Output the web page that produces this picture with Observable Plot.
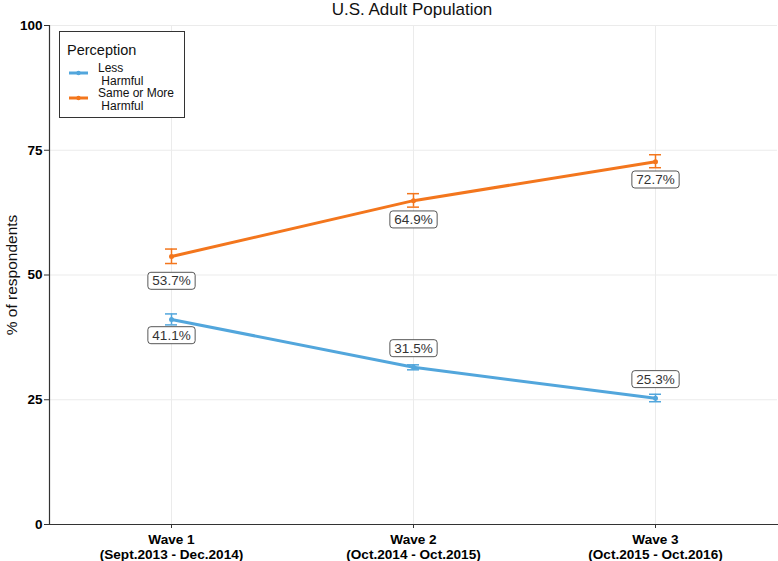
<!DOCTYPE html>
<html><head><meta charset="utf-8">
<script src="https://cdn.jsdelivr.net/npm/d3@7"></script>
<script src="https://cdn.jsdelivr.net/npm/@observablehq/plot@0.6"></script>
<style>
body{margin:0;background:#fff;font-family:"Liberation Sans",Arial,sans-serif;}
#wrap{position:relative;width:778px;height:561px;overflow:hidden;}
#title{position:absolute;left:0;width:824px;top:0px;text-align:center;font-size:17px;color:#111;line-height:19px;}
#legend{position:absolute;left:59px;top:31px;width:124px;height:85px;border:1.5px solid #333;background:#fff;}
#legend .ttl{position:absolute;left:7px;top:10px;font-size:14.5px;color:#111;}
#legend .item{position:absolute;left:38px;font-size:12px;color:#111;white-space:pre;line-height:13px;}
#legend svg{position:absolute;left:0;top:0;}
</style></head>
<body><div id="wrap"><div id="title">U.S. Adult Population</div></div>
<script>
// ---- data ----
const waves = ["Wave 1", "Wave 2", "Wave 3"];
const periods = ["(Sept.2013 - Dec.2014)", "(Oct.2014 - Oct.2015)", "(Oct.2015 - Oct.2016)"];
const seriesNames = ["Less Harmful", "Same or More Harmful"];
const legendLabels = ["Less\n Harmful", "Same or More\n Harmful"];
const seriesColors = ["#52a6dc", "#f3761d"];
const lessValues = [41.1, 31.5, 25.3];
const lessLow = [40.0, 31.0, 24.6];
const lessHigh = [42.2, 32.0, 26.1];
const lessLabelY = [37.9, 35.3, 29.1];
const moreValues = [53.7, 64.9, 72.7];
const moreLow = [52.3, 63.6, 71.5];
const moreHigh = [55.2, 66.3, 74.1];
const moreLabelY = [48.8, 61.1, 69.1];
const yTicks = [0, 25, 50, 75, 100];

const rows = [];
waves.forEach((w, i) => {
  rows.push({wave: w, series: seriesNames[0], value: lessValues[i], lo: lessLow[i], hi: lessHigh[i], ly: lessLabelY[i]});
});
waves.forEach((w, i) => {
  rows.push({wave: w, series: seriesNames[1], value: moreValues[i], lo: moreLow[i], hi: moreHigh[i], ly: moreLabelY[i]});
});

const chart = Plot.plot({
  width: 778, height: 561,
  marginLeft: 49, marginRight: 1, marginTop: 25, marginBottom: 37,
  style: {fontFamily: "'Liberation Sans', Arial, sans-serif", background: "white", color: "black"},
  x: {type: "point", domain: waves, padding: 0.5},
  y: {domain: [0, 100]},
  color: {domain: seriesNames, range: seriesColors},
  marks: [
    Plot.gridX(waves, {stroke: "#ebebeb", strokeOpacity: 1, strokeWidth: 1}),
    Plot.gridY(yTicks, {stroke: "#ebebeb", strokeOpacity: 1, strokeWidth: 1}),
    Plot.axisY({ticks: yTicks, tickSize: 5, tickPadding: 2, fontSize: 13.5, fontWeight: "bold", fill: "black", stroke: "#333", label: null}),
    Plot.axisX({tickSize: 4, tickPadding: 5, fontSize: 13.6, fontWeight: "bold", fill: "black", stroke: "#333", label: null, lineHeight: 1.1,
      tickFormat: (d) => d + "\n" + periods[waves.indexOf(d)]}),
    Plot.frame({anchor: "left", stroke: "#333", strokeWidth: 1.2}),
    Plot.frame({anchor: "bottom", stroke: "#333", strokeWidth: 1.2}),
    Plot.text(["% of respondents"], {frameAnchor: "left", rotate: -90, dx: -37, fontSize: 15.5, fill: "#111", textAnchor: "middle"}),
    Plot.line(rows, {x: "wave", y: "value", stroke: "series", z: "series", strokeWidth: 3}),
    Plot.ruleX(rows, {x: "wave", y1: "lo", y2: "hi", stroke: "series", strokeWidth: 1.5}),
    Plot.ruleY(rows, {x1: "wave", x2: "wave", y: "lo", stroke: "series", strokeWidth: 1.5, insetLeft: -6, insetRight: -6}),
    Plot.ruleY(rows, {x1: "wave", x2: "wave", y: "hi", stroke: "series", strokeWidth: 1.5, insetLeft: -6, insetRight: -6}),
    Plot.dot(rows, {x: "wave", y: "value", fill: "series", r: 2.5}),
    Plot.text(rows, {x: "wave", y: "ly", text: (d) => d.value.toFixed(1) + "%", fontSize: 13.5, fill: "#333"})
  ]
});
const wrap = document.getElementById("wrap");
wrap.insertBefore(chart, wrap.firstChild);

// boxes behind value labels (like geom_label)
chart.querySelectorAll("text").forEach((t) => {
  if (!/^\d+\.\d%$/.test(t.textContent)) return;
  const b = t.getBBox();
  const r = document.createElementNS("http://www.w3.org/2000/svg", "rect");
  r.setAttribute("x", b.x - 4.5);
  r.setAttribute("y", b.y - 1);
  r.setAttribute("width", b.width + 9);
  r.setAttribute("height", b.height + 2);
  r.setAttribute("rx", 3);
  r.setAttribute("fill", "white");
  r.setAttribute("stroke", "#444");
  r.setAttribute("stroke-width", 0.9);
  if (t.getAttribute("transform")) r.setAttribute("transform", t.getAttribute("transform"));
  t.parentNode.insertBefore(r, t);
});

// legend
const leg = document.createElement("div");
leg.id = "legend";
let html = '<div class="ttl">Perception</div><svg width="124" height="85">';
const keyY = [41, 66];
seriesNames.forEach((s, i) => {
  html += `<line x1="9" x2="28" y1="${keyY[i]}" y2="${keyY[i]}" stroke="${seriesColors[i]}" stroke-width="3"/>` +
          `<circle cx="18.5" cy="${keyY[i]}" r="2.2" fill="${seriesColors[i]}"/>`;
});
html += '</svg>';
legendLabels.forEach((l, i) => {
  html += `<div class="item" style="top:${[30, 55][i]}px">${l}</div>`;
});
leg.innerHTML = html;
wrap.appendChild(leg);
</script>
</body></html>
